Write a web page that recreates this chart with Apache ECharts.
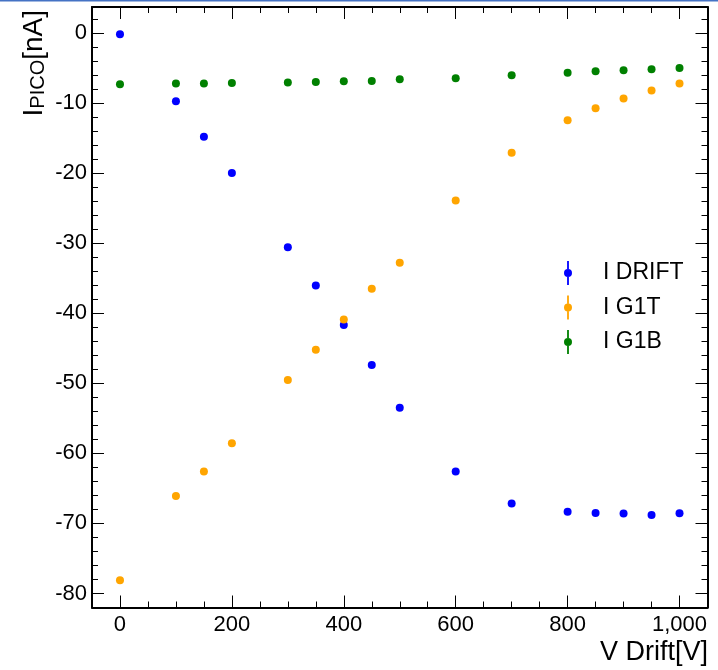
<!DOCTYPE html>
<html>
<head>
<meta charset="utf-8">
<script src="https://cdn.jsdelivr.net/npm/echarts@6/dist/echarts.min.js"></script>
<style>
html,body{margin:0;padding:0;background:#fff;}
#chart{width:718px;height:670px;}
</style>
</head>
<body>
<div id="chart"></div>
<script>
// ---- data ----
var voltage = [0, 100, 150, 200, 300, 350, 400, 450, 500, 600, 700, 800, 850, 900, 950, 1000];
var iDrift  = [-0.2, -9.75, -14.8, -20.0, -30.6, -36.05, -41.7, -47.4, -53.5, -62.6, -67.15, -68.35, -68.5, -68.6, -68.8, -68.55];
var iG1T    = [-78.1, -66.1, -62.6, -58.55, -49.55, -45.2, -40.9, -36.5, -32.8, -23.9, -17.1, -12.45, -10.75, -9.35, -8.2, -7.2];
var iG1B    = [-7.32, -7.22, -7.22, -7.13, -7.08, -7.0, -6.9, -6.85, -6.6, -6.46, -6.04, -5.7, -5.47, -5.32, -5.18, -5.0];
var seriesNames = ['I DRIFT', 'I G1T', 'I G1B'];
var xMajor = [0, 200, 400, 600, 800, 1000];
var xMinor = [-50, 0, 50, 100, 150, 200, 250, 300, 350, 400, 450, 500, 550, 600, 650, 700, 750, 800, 850, 900, 950, 1000, 1050];
var yMajor = [-80, -70, -60, -50, -40, -30, -20, -10, 0];
var yMinor = [-82, -80, -78, -76, -74, -72, -70, -68, -66, -64, -62, -60, -58, -56, -54, -52, -50, -48, -46, -44, -42, -40, -38, -36, -34, -32, -30, -28, -26, -24, -22, -20, -18, -16, -14, -12, -10, -8, -6, -4, -2, 0, 2];
var xTitle = 'V Drift[V]';
var yTitleMain = 'I', yTitleSub = 'PICO', yTitleUnit = '[nA]';

function pairs(xs, ys) { return xs.map(function (x, i) { return [x, ys[i]]; }); }

var FONT = '"Liberation Sans", Arial, Helvetica, sans-serif';
var X_MIN = -50, X_MAX = 1050, Y_MIN = -82, Y_MAX = 3.7;
var colors = ['#0000ff', '#ffa500', '#008000'];
var iconPath = 'path://M3.1,0 L4.9,0 L4.9,8 L3.1,8 Z M3.1,16 L4.9,16 L4.9,24 L3.1,24 Z M0,12 A4,4 0 1,0 8,12 A4,4 0 1,0 0,12 Z';

function xAx(pos, ticks, len, showLine, showLabel) {
  return {
    type: 'value', position: pos, min: X_MIN, max: X_MAX,
    axisLine: { show: showLine, onZero: false, lineStyle: { color: '#000', width: 2 } },
    axisTick: { show: true, inside: true, length: len, customValues: ticks, lineStyle: { color: '#000', width: 1 } },
    axisLabel: { show: showLabel, customValues: xMajor, margin: 6, color: '#000', fontSize: 22, fontFamily: FONT },
    splitLine: { show: false }
  };
}
function yAx(pos, ticks, len, showLine, showLabel) {
  return {
    type: 'value', position: pos, min: Y_MIN, max: Y_MAX,
    axisLine: { show: showLine, onZero: false, lineStyle: { color: '#000', width: 2 } },
    axisTick: { show: true, inside: true, length: len, customValues: ticks, lineStyle: { color: '#000', width: 1 } },
    axisLabel: { show: showLabel, customValues: yMajor, margin: 5, color: '#000', fontSize: 22, fontFamily: FONT },
    splitLine: { show: false }
  };
}

function sc(i, ys) {
  return { name: seriesNames[i], type: 'scatter', symbol: 'circle', symbolSize: 8,
    itemStyle: { color: colors[i], opacity: 1 }, data: pairs(voltage, ys) };
}

var chart = echarts.init(document.getElementById('chart'), null, { renderer: 'canvas' });
chart.setOption({
  animation: false,
  backgroundColor: '#fff',
  grid: { left: 92, right: 10.5, top: 7, bottom: 62.5, containLabel: false },
  xAxis: [
    xAx('bottom', xMajor, 12, true, true),
    xAx('bottom', xMinor, 6, false, false),
    xAx('top', xMajor, 12, true, false),
    xAx('top', xMinor, 6, false, false)
  ],
  yAxis: [
    yAx('left', yMajor, 12, true, true),
    yAx('left', yMinor, 6, false, false),
    yAx('right', yMajor, 12, true, false),
    yAx('right', yMinor, 6, false, false)
  ],
  legend: {
    left: 559, top: 256, orient: 'vertical', selectedMode: false,
    itemWidth: 8, itemHeight: 24, itemGap: 10.5,
    itemStyle: { opacity: 1 },
    textStyle: { fontSize: 23, fontFamily: FONT, color: '#000', padding: [0, 0, 0, 26] },
    data: seriesNames.map(function (n) { return { name: n, icon: iconPath }; })
  },
  series: [ sc(0, iDrift), sc(1, iG1T), sc(2, iG1B) ],
  graphic: [
    { type: 'rect', left: 0, top: 0, shape: { width: 718, height: 1.5 }, style: { fill: '#4472c4' }, silent: true },
    { type: 'text', x: 708, y: 653, style: { text: xTitle, font: '27px ' + FONT, fill: '#000', align: 'right', verticalAlign: 'middle' } },
    { type: 'text', x: 33, y: 10, rotation: Math.PI / 2,
      style: {
        text: '{a|' + yTitleMain + '}{b|' + yTitleSub + '}{a|' + yTitleUnit + '}',
        align: 'right', verticalAlign: 'middle', fill: '#000',
        rich: {
          a: { fontSize: 28, fontFamily: FONT, lineHeight: 30, verticalAlign: 'bottom' },
          b: { fontSize: 20, fontFamily: FONT, lineHeight: 20, verticalAlign: 'bottom' }
        }
      } }
  ]
});
</script>
</body>
</html>
